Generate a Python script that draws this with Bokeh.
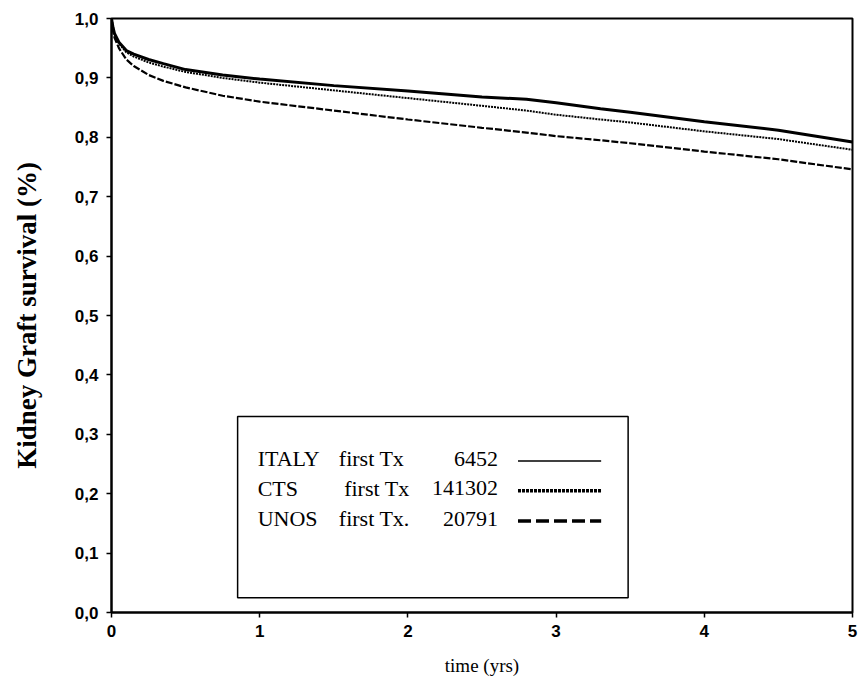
from bokeh.plotting import figure
from bokeh.models import FixedTicker, CustomJSTickFormatter, BoxAnnotation, Label
from bokeh.embed import file_html
from bokeh.resources import INLINE

# ---- data ----
time_yrs = [0, 0.01, 0.02, 0.05, 0.1, 0.15, 0.25, 0.35, 0.5, 0.75, 1.0, 1.5, 2.0, 2.5, 2.8, 3.0, 3.3, 3.5, 4.0, 4.5, 5.0]
italy = [1.0, 0.985, 0.975, 0.960, 0.946, 0.940, 0.931, 0.924, 0.914, 0.905, 0.898, 0.887, 0.878, 0.868, 0.864, 0.858, 0.848, 0.842, 0.826, 0.812, 0.792]
cts   = [1.0, 0.985, 0.974, 0.958, 0.943, 0.936, 0.926, 0.919, 0.910, 0.900, 0.892, 0.879, 0.866, 0.853, 0.845, 0.838, 0.830, 0.825, 0.810, 0.797, 0.779]
unos  = [1.0, 0.980, 0.968, 0.950, 0.931, 0.920, 0.905, 0.895, 0.884, 0.870, 0.860, 0.845, 0.830, 0.816, 0.808, 0.802, 0.795, 0.790, 0.776, 0.763, 0.746]

x_ticks = [0, 1, 2, 3, 4, 5]
y_ticks = [0.0, 0.1, 0.2, 0.3, 0.4, 0.5, 0.6, 0.7, 0.8, 0.9, 1.0]

legend_names = ["ITALY", "CTS", "UNOS"]
legend_mid = ["first Tx", "first Tx", "first Tx."]
legend_counts = ["6452", "141302", "20791"]

SERIF = "Liberation Serif"
SANS = "Liberation Sans"

p = figure(width=860, height=688, x_range=(0, 5), y_range=(0, 1.0),
           output_backend="svg", toolbar_location=None,
           min_border_left=111, min_border_right=8, min_border_top=18, min_border_bottom=76)
p.background_fill_color = "white"
p.border_fill_color = "white"
p.outline_line_color = "black"
p.outline_line_width = 2
p.grid.visible = False

# axes
p.xaxis.ticker = FixedTicker(ticks=x_ticks)
p.yaxis.ticker = FixedTicker(ticks=y_ticks)
p.yaxis.formatter = CustomJSTickFormatter(code="return tick.toFixed(1).replace('.', ',');")
p.xaxis.formatter = CustomJSTickFormatter(code="return tick.toFixed(0);")
for ax in (p.xaxis[0], p.yaxis[0]):
    ax.axis_line_color = "black"
    ax.axis_line_width = 2
    ax.major_tick_line_color = "black"
    ax.major_tick_line_width = 1.5
    ax.major_tick_in = 0
    ax.major_tick_out = 5
    ax.minor_tick_line_color = None
    ax.major_label_text_font = SANS
    ax.major_label_text_font_size = "17px"
    ax.major_label_text_font_style = "bold"
    ax.major_label_text_color = "black"
p.yaxis.major_label_standoff = 8
p.xaxis.major_label_standoff = 7

p.yaxis.axis_label = "Kidney Graft survival (%)"
p.yaxis.axis_label_text_font = SERIF
p.yaxis.axis_label_text_font_style = "bold"
p.yaxis.axis_label_text_font_size = "27px"
p.yaxis.axis_label_standoff = 30
p.yaxis.axis_label_text_color = "black"

p.xaxis.axis_label = "time (yrs)"
p.xaxis.axis_label_text_font = SERIF
p.xaxis.axis_label_text_font_style = "normal"
p.xaxis.axis_label_text_font_size = "19px"
p.xaxis.axis_label_standoff = 15
p.xaxis.axis_label_text_color = "black"

# curves
p.line(time_yrs, italy, line_color="black", line_width=3)
p.line(time_yrs, cts, line_color="black", line_width=2, line_dash="2 1")
p.line(time_yrs, unos, line_color="black", line_width=2.2, line_dash="7 2")

# legend box (manual, layout in data coordinates)
box_l, box_r, box_b, box_t = 0.851, 3.486, 0.025, 0.330
p.add_layout(BoxAnnotation(left=box_l, right=box_r, bottom=box_b, top=box_t,
                           fill_color="white", fill_alpha=1.0,
                           line_color="black", line_alpha=1.0, line_width=1.5,
                           level="underlay"))
rows_y = [0.259, 0.209, 0.158]
name_x = 0.986
mid_x = [1.534, 1.57, 1.534]
count_x = 2.608
seg_x0, seg_x1 = 2.743, 3.304
styles = [dict(line_width=1.5, line_dash="solid"),
          dict(line_width=3.5, line_dash="3 1"),
          dict(line_width=3.5, line_dash="13 5")]
for i in range(3):
    for txt, xx, align in ((legend_names[i], name_x, "left"),
                           (legend_mid[i], mid_x[i], "left"),
                           (legend_counts[i], count_x, "right")):
        p.add_layout(Label(x=xx, y=rows_y[i], text=txt, text_font=SERIF,
                           text_font_size="22px", text_color="black",
                           text_align=align, text_baseline="middle"))
    p.line([seg_x0, seg_x1], [rows_y[i] - 0.004, rows_y[i] - 0.004],
           line_color="black", **styles[i])

open("out.html", "w").write(file_html(p, INLINE))
